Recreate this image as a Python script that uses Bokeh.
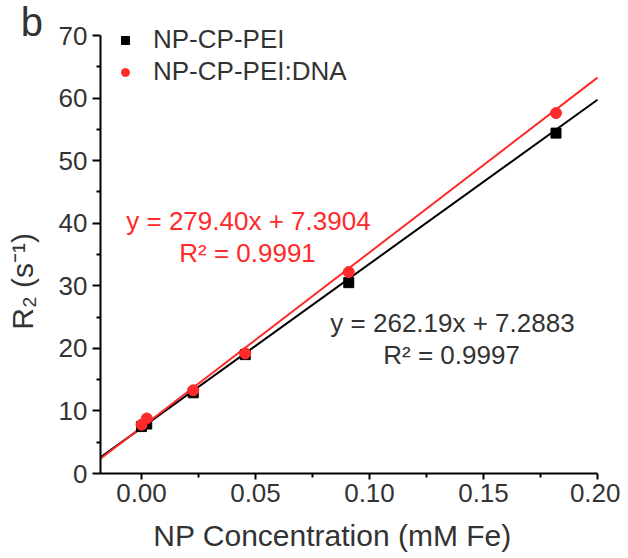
import math
from bokeh.plotting import figure
from bokeh.models import (Range1d, FixedTicker, NumeralTickFormatter, Label,
                          Legend, LegendItem)
from bokeh.embed import file_html
from bokeh.resources import INLINE

# ---- data ----
conc_pei = [0.0, 0.0023, 0.0227, 0.0455, 0.0909, 0.1818]
r2_pei = [7.5, 7.9, 12.9, 19.0, 30.5, 54.4]
conc_dna = [0.0, 0.0023, 0.0227, 0.0455, 0.0909, 0.1818]
r2_dna = [7.8, 8.8, 13.3, 19.2, 32.2, 57.6]

slope_pei, icpt_pei, rsq_pei = 262.19, 7.2883, 0.9997
slope_dna, icpt_dna, rsq_dna = 279.40, 7.3904, 0.9991

x_ticks = [0.0, 0.05, 0.10, 0.15, 0.20]
x_minor = [0.025, 0.075, 0.125, 0.175]
y_ticks = [0, 10, 20, 30, 40, 50, 60, 70]
y_minor = [5, 15, 25, 35, 45, 55, 65]

series_names = ["NP-CP-PEI", "NP-CP-PEI:DNA"]
x_title = "NP Concentration (mM Fe)"
y_title = "R\u2082 (s\u207b\u00b9)"
panel_letter = "b"

# axis extents
X_LO, X_HI = -0.018, 0.20
Y_LO, Y_HI = 0, 70

RED = "#ff2a2a"
TXT = "#333333"
FONT = "Liberation Sans"

W, H = 620, 556
PX_X = 2280.0          # pixels per x unit
PX_Y = 438.0 / 70.0    # pixels per y unit
X0_PX, Y0_PX = 141.0, 473.0   # pixel position of the (0, 0) point

p = figure(width=W, height=H, output_backend="svg", toolbar_location=None,
           x_range=Range1d(-X0_PX / PX_X, (W - X0_PX) / PX_X),
           y_range=Range1d(-(H - Y0_PX) / PX_Y, Y0_PX / PX_Y),
           min_border=0, min_border_left=0, min_border_right=0,
           min_border_top=0, min_border_bottom=0)
p.outline_line_color = None
p.xgrid.visible = False
p.ygrid.visible = False
p.background_fill_color = "white"
p.border_fill_color = "white"

# fit lines (computed from slope / intercept over the axis span)
p.line([X_LO, X_HI], [slope_pei * X_LO + icpt_pei, slope_pei * X_HI + icpt_pei],
       line_color="black", line_width=2)
p.line([X_LO, X_HI], [slope_dna * X_LO + icpt_dna, slope_dna * X_HI + icpt_dna],
       line_color=RED, line_width=2)

r_pei = p.scatter(conc_pei, r2_pei, marker="square", size=10, fill_color="black",
                  line_color="black")
r_dna = p.scatter(conc_dna, r2_dna, marker="circle", size=11, fill_color=RED,
                  line_color=RED)

# axes (drawn at fixed locations inside the frame)
for ax in (p.xaxis[0], p.yaxis[0]):
    ax.axis_line_width = 2
    ax.axis_line_color = "black"
    ax.major_tick_line_width = 2
    ax.minor_tick_line_width = 2
    ax.major_tick_line_color = "black"
    ax.minor_tick_line_color = "black"
    ax.major_tick_in = 0
    ax.minor_tick_in = 0
    ax.major_label_text_font = FONT
    ax.major_label_text_font_size = "26px"
    ax.major_label_text_color = TXT

p.xaxis.fixed_location = Y_LO
p.xaxis.bounds = (X_LO, X_HI)
p.xaxis.ticker = FixedTicker(ticks=x_ticks, minor_ticks=x_minor)
p.xaxis.formatter = NumeralTickFormatter(format="0.00")
p.xaxis.major_tick_out = 6
p.xaxis.minor_tick_out = 4
p.xaxis.major_label_standoff = 4

p.yaxis.fixed_location = X_LO
p.yaxis.bounds = (Y_LO, Y_HI)
p.yaxis.ticker = FixedTicker(ticks=y_ticks, minor_ticks=y_minor)
p.yaxis.major_tick_out = 8
p.yaxis.minor_tick_out = 4
p.yaxis.major_label_standoff = 5

# axis titles
p.add_layout(Label(x=0.0838, y=-9.9, text=x_title, text_align="center",
                   text_baseline="middle", text_font=FONT,
                   text_font_size="30px", text_color=TXT))
p.add_layout(Label(x=-0.0522, y=30.7, text=y_title, text_align="center",
                   text_baseline="middle", text_font=FONT, angle=math.pi / 2,
                   text_font_size="30px", text_color=TXT))

# legend
legend = Legend(items=[LegendItem(label=series_names[0], renderers=[r_pei]),
                       LegendItem(label=series_names[1], renderers=[r_dna])],
                location=(115, 463 + (H - 550)), orientation="vertical",
                glyph_width=20, glyph_height=30, label_height=30, spacing=1,
                padding=0, margin=0, label_standoff=18,
                label_text_font=FONT, label_text_font_size="26px",
                label_text_color=TXT, border_line_alpha=0,
                background_fill_alpha=0)
p.add_layout(legend)

# fit equations
def eq_text(s, b):
    return f"y = {s:.2f}x + {b:.4f}"

def r_text(r):
    return f"R\u00b2 = {r:.4f}"

for txt, xx, yy, col in [(eq_text(slope_dna, icpt_dna), 0.0469, 40.3, RED),
                         (r_text(rsq_dna), 0.0465, 35.3, RED),
                         (eq_text(slope_pei, icpt_pei), 0.1364, 24.0, TXT),
                         (r_text(rsq_pei), 0.1360, 19.0, TXT)]:
    p.add_layout(Label(x=xx, y=yy, text=txt, text_align="center",
                       text_baseline="middle", text_font=FONT,
                       text_font_size="26px", text_color=col))

# panel letter
p.add_layout(Label(x=-0.0530, y=72.1, text=panel_letter, text_font=FONT,
                   text_font_size="40px", text_color=TXT,
                   text_baseline="alphabetic", text_align="left"))

open("out.html", "w").write(file_html(p, INLINE))
